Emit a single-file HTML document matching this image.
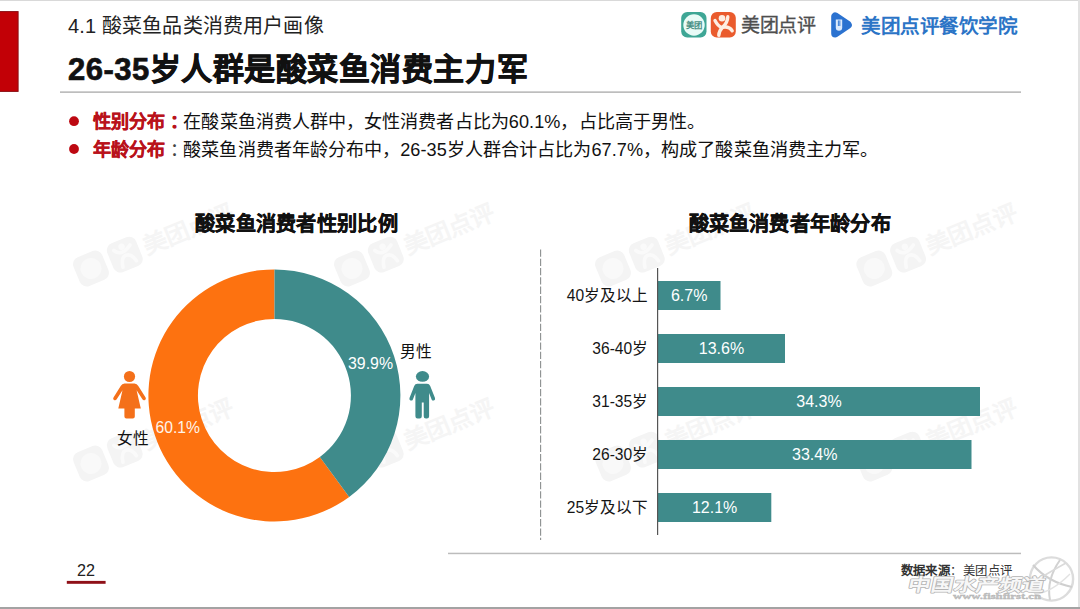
<!DOCTYPE html>
<html lang="zh-CN">
<head>
<meta charset="utf-8">
<title>26-35岁人群是酸菜鱼消费主力军</title>
<style>
html,body{margin:0;padding:0;background:#fff;}
body{width:1080px;height:609px;overflow:hidden;position:relative;font-family:"Liberation Sans",sans-serif;}
svg{position:absolute;left:0;top:0;display:block;}
text{font-family:"Liberation Sans",sans-serif;}
.b{font-weight:bold;}
</style>
</head>
<body>
<svg width="1080" height="609" viewBox="0 0 1080 609">
<defs>
  <g id="wm">
    <rect x="-15.5" y="-15.5" width="31" height="31" rx="7.5" fill="#f4f4f4"/>
    <circle cx="0" cy="0" r="10.5" fill="#f9f9f9"/>
    <rect x="21" y="-15.5" width="31" height="31" rx="7.5" fill="#f4f4f4"/>
    <path d="M28 -8 Q33 1 45 -7 M30 11 Q32 1 37 1 Q43 1 45 10" fill="none" stroke="#fafafa" stroke-width="3.6" stroke-linecap="round"/>
    <circle cx="36.5" cy="-8.5" r="3.2" fill="#fafafa"/>
    <text x="57" y="8.5" font-size="23.5" font-weight="bold" fill="#f5f5f5" textLength="95.5" lengthAdjust="spacingAndGlyphs">美团点评</text>
  </g>
</defs>
<rect x="0" y="0" width="1080" height="609" fill="#ffffff"/>

<!-- watermarks -->
<g id="watermarks">
  <use href="#wm" transform="translate(91,268.5) rotate(-22.3)"/>
  <use href="#wm" transform="translate(352,268.5) rotate(-22.3)"/>
  <use href="#wm" transform="translate(613,268.5) rotate(-22.3)"/>
  <use href="#wm" transform="translate(874.3,268.5) rotate(-22.3)"/>
  <use href="#wm" transform="translate(91,463.5) rotate(-22.3)"/>
  <use href="#wm" transform="translate(352,463.5) rotate(-22.3)"/>
  <use href="#wm" transform="translate(613,463.5) rotate(-22.3)"/>
  <use href="#wm" transform="translate(874.3,463.5) rotate(-22.3)"/>
</g>

<!-- frame edges -->
<rect x="0" y="0" width="1080" height="1" fill="#d9d9d9"/>
<rect x="1078" y="0" width="2" height="609" fill="#e2e2e2"/>
<rect x="0" y="607" width="1080" height="2" fill="#a3a3a3"/>

<!-- header -->
<rect x="-2" y="11.6" width="20.1" height="79.8" fill="#c20006" stroke="#8a0d12" stroke-width="1"/>
<text x="68" y="33.4" font-size="20" fill="#222" textLength="255.5" lengthAdjust="spacing">4.1 酸菜鱼品类消费用户画像</text>
<text x="68" y="80.3" font-size="31" class="b" fill="#111" stroke="#111" stroke-width="0.7" textLength="459.5" lengthAdjust="spacing">26-35岁人群是酸菜鱼消费主力军</text>
<rect x="60" y="91.3" width="961" height="1.7" fill="#bdbdbd"/>

<!-- logos -->
<g id="logos">
  <rect x="681.2" y="12.1" width="25.3" height="25.4" rx="6" fill="#3ea695"/>
  <circle cx="694" cy="25" r="10.7" fill="#e9fbf7"/>
  <text x="694" y="28.1" font-size="8.4" class="b" fill="#4a8f84" text-anchor="middle">美团</text>
  <rect x="710.8" y="12.1" width="25" height="25.4" rx="6" fill="#ea5b2d"/>
  <g fill="none" stroke="#fdeee2" stroke-width="3.4" stroke-linecap="round" stroke-linejoin="round">
    <path d="M715 20.6 Q718 26.5 721.5 27.3"/>
    <path d="M727.8 16.8 Q727.5 23 722.3 27.5 Q719 31 718.8 35.3"/>
    <path d="M723 27.2 Q729.5 26.3 732.2 30.8"/>
  </g>
  <circle cx="722" cy="18.2" r="3.3" fill="#fdeee2"/>
  <text x="741" y="32.3" font-size="19" fill="#4e4e4e" stroke="#4e4e4e" stroke-width="0.35" textLength="75" lengthAdjust="spacing">美团点评</text>
  <path d="M835.2 16.4 L835.2 33.5 L847.8 24.9 Z" fill="#2b72d0" stroke="#2b72d0" stroke-width="8" stroke-linejoin="round"/>
  <path d="M835.8 19.4 L842.2 19.4 L842.2 27.6 A3.2 3.2 0 0 1 835.8 27.6 Z" fill="#dceafc"/><rect x="837.9" y="20.4" width="0.9" height="5.6" fill="#2b72d0"/><rect x="839.4" y="20.4" width="0.9" height="5.6" fill="#2b72d0"/>
  <text x="861" y="32.5" font-size="19.6" fill="#2b74c6" class="b" textLength="157" lengthAdjust="spacing">美团点评餐饮学院</text>
</g>

<!-- bullets -->
<circle cx="74" cy="121.2" r="4.9" fill="#bd0811"/>
<circle cx="74" cy="149" r="4.9" fill="#bd0811"/>
<text x="93" y="128.3" font-size="18.1" fill="#111" textLength="612" lengthAdjust="spacing"><tspan class="b" fill="#b9121b" stroke="#b9121b" stroke-width="0.35">性别分布<tspan dx="4.3">：</tspan></tspan><tspan dx="-4.3">在</tspan>酸菜鱼消费人群中，女性消费者占比为60.1%，占比高于男性。</text>
<text x="93" y="156" font-size="18.1" fill="#111" textLength="785" lengthAdjust="spacing"><tspan class="b" fill="#b9121b" stroke="#b9121b" stroke-width="0.35">年龄分布</tspan><tspan dx="4.3" fill="#444">：</tspan><tspan dx="-4.3">酸</tspan>菜鱼消费者年龄分布中，26-35岁人群合计占比为67.7%，构成了酸菜鱼消费主力军。</text>

<!-- chart titles -->
<text x="195" y="231.3" font-size="20.2" class="b" fill="#111" stroke="#111" stroke-width="0.35" textLength="202.5" lengthAdjust="spacing">酸菜鱼消费者性别比例</text>
<text x="688.5" y="230.5" font-size="20.2" class="b" fill="#111" stroke="#111" stroke-width="0.35" textLength="202" lengthAdjust="spacing">酸菜鱼消费者年龄分布</text>

<!-- donut -->
<g id="donut">
  <path d="M349.2 496.9 A126 126 0 1 1 274.5 269.5 L274.5 319 A76.5 76.5 0 1 0 319.85 457.06 Z" fill="#fd7210"/>
  <path d="M274.5 269.5 A126 126 0 0 1 349.2 496.9 L319.85 457.06 A76.5 76.5 0 0 0 274.5 319 Z" fill="#3f8b8b"/>
  <text x="370.5" y="369.3" font-size="15.9" fill="#fff" text-anchor="middle">39.9%</text>
  <text x="177.7" y="433.3" font-size="15.7" fill="#fff5ea" text-anchor="middle">60.1%</text>
</g>

<!-- female icon -->
<g fill="#f4701a">
  <circle cx="129.5" cy="376.5" r="5.6"/>
  <path d="M124.5 383.5 L134.5 383.5 Q137 383.5 138.3 386 L145.6 397.4 Q146.5 399 145 400 Q143.4 400.8 142.4 399.3 L136.6 390.3 L140.8 408.6 L134.8 408.6 L134.8 416.4 Q134.8 418.4 132.8 418.4 L126.4 418.4 Q124.4 418.4 124.4 416.4 L124.4 408.6 L118.3 408.6 L122.5 390.3 L116.7 399.3 Q115.6 400.8 114 400 Q112.5 399 113.5 397.4 L120.7 386 Q122 383.5 124.5 383.5 Z"/>
</g>
<text x="133" y="443.6" font-size="15.7" fill="#111" text-anchor="middle" textLength="32" lengthAdjust="spacing">女性</text>

<!-- male icon -->
<g fill="#3f8b8b">
  <ellipse cx="422.5" cy="376.4" rx="6.6" ry="5.3"/>
  <path d="M417.4 383.7 L427 383.7 Q429.3 383.7 430.2 386 L435 398 Q435.6 399.8 434 400.5 Q432.4 401 431.6 399.4 L429.1 393 L429.1 416.2 Q429.1 418.5 426.9 418.5 L425.9 418.5 Q423.7 418.5 423.7 416.2 L423.7 402.5 L421.8 402.5 L421.8 416.2 Q421.8 418.5 419.6 418.5 L417.6 418.5 Q415.4 418.5 415.4 416.2 L415.4 393 L412.9 399.4 Q412.1 401 410.5 400.5 Q408.9 399.8 409.5 398 L414.2 386 Q415.1 383.7 417.4 383.7 Z"/>
</g>
<text x="416.2" y="357.2" font-size="15.7" fill="#111" text-anchor="middle" textLength="32" lengthAdjust="spacing">男性</text>

<!-- divider lines -->
<line x1="540.6" y1="249.4" x2="540.6" y2="540" stroke="#8c9090" stroke-width="1.1" stroke-dasharray="7.3 2"/>
<rect x="448" y="552.7" width="573" height="1.5" fill="#bcbcbc"/>

<!-- bar chart -->
<g id="bars" fill="#3f8b8b">
  <rect x="658" y="281" width="62.5" height="29"/>
  <rect x="658" y="334" width="127" height="29"/>
  <rect x="658" y="387" width="322" height="29"/>
  <rect x="658" y="440" width="313.5" height="29"/>
  <rect x="658" y="493" width="113.3" height="29"/>
</g>
<rect x="657" y="268" width="1.2" height="267" fill="#555"/>
<g font-size="16" fill="#fdffff" text-anchor="middle">
  <text x="689.2" y="301.1">6.7%</text>
  <text x="721.5" y="354.1">13.6%</text>
  <text x="819" y="407.1">34.3%</text>
  <text x="814.7" y="460.1">33.4%</text>
  <text x="714.6" y="513.1">12.1%</text>
</g>
<g font-size="15.6" fill="#151515" text-anchor="end">
  <text x="648.2" y="301" textLength="81.4" lengthAdjust="spacing">40岁及以上</text>
  <text x="648.2" y="354" textLength="55.9" lengthAdjust="spacing">36-40岁</text>
  <text x="648.2" y="407" textLength="55.9" lengthAdjust="spacing">31-35岁</text>
  <text x="648.2" y="460" textLength="55.9" lengthAdjust="spacing">26-30岁</text>
  <text x="648.2" y="513" textLength="81.4" lengthAdjust="spacing">25岁及以下</text>
</g>

<!-- footer -->
<text x="86" y="576.3" font-size="16.2" fill="#222" text-anchor="middle">22</text>
<rect x="66.8" y="580.9" width="38.8" height="2.9" fill="#8f1018"/>
<text x="900.5" y="574.5" font-size="12.4" fill="#333" textLength="111.5" lengthAdjust="spacing"><tspan class="b">数据来源</tspan>：美团点评</text>

<!-- corner watermark -->
<g id="corner" fill="none">
  <circle cx="1051.5" cy="579" r="21.6" stroke-width="2.4" stroke="#dcdcdc"/>
  <path d="M1033 565 Q1048 582 1072 587" stroke="#cfcfcf" stroke-width="2"/>
  <path d="M1060 560 Q1046 580 1050 600" stroke="#d2d2d2" stroke-width="2"/>
  <path d="M1031 584 Q1046 574 1066 563" stroke="#dadada" stroke-width="1.6"/>
  <path d="M1036 594 Q1052 592 1070 574" stroke="#e2e2e2" stroke-width="1.4"/>
</g>
<g transform="translate(907,590.5) skewX(-12) scale(1.33,1)">
<text x="0" y="0" font-size="17.4" class="b" fill="#f7f7f7" stroke="#b4b4b4" stroke-width="1.5" paint-order="stroke" stroke-linejoin="round" textLength="103" lengthAdjust="spacingAndGlyphs">中国水产频道</text>
</g>
<text x="953" y="599.4" font-size="8.6" style="font-family:'Liberation Serif',serif" class="b" fill="#c4c4c4" stroke="#b0b0b0" stroke-width="0.3" textLength="88" lengthAdjust="spacingAndGlyphs">www.fishfirst.cn</text>
</svg>
</body>
</html>
